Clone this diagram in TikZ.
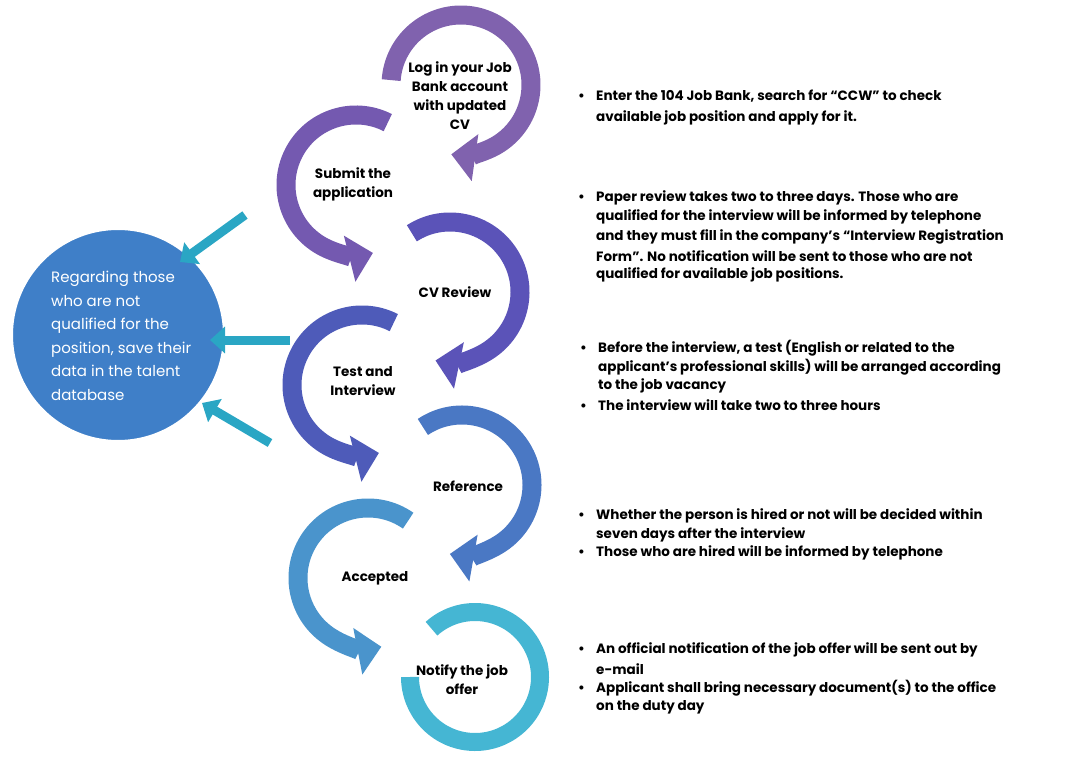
\documentclass[tikz,border=0pt]{standalone}
\usepackage{fontspec}
\setmainfont{Poppins}
\usetikzlibrary{arrows.meta}
\definecolor{c1}{HTML}{8062AE}
\definecolor{c2}{HTML}{7459B0}
\definecolor{c3}{HTML}{5B53B8}
\definecolor{c4}{HTML}{4E5BB9}
\definecolor{c5}{HTML}{4A78C4}
\definecolor{c6}{HTML}{4A94CC}
\definecolor{c7}{HTML}{45B6D3}
\definecolor{teal}{HTML}{2AA6C4}
\definecolor{circ}{HTML}{3F7FC8}
\newcommand{\bul}{\makebox[18pt][l]{•}}
\begin{document}
\begin{tikzpicture}[x=1pt,y=1pt,
  ring/.style={line width=19pt},
  arr/.style={ring,-{Triangle[length=24pt,width=46pt]}},
  lbl/.style={align=center,font=\bfseries\fontsize{13.5}{19}\selectfont,inner sep=0},
  txt/.style={anchor=west,font=\bfseries\fontsize{13.5}{19}\selectfont,inner sep=0},
  tarr/.style={teal,line width=9pt,-{Triangle[length=15pt,width=26pt]}}]
\begin{scope}[yscale=-1]
\useasboundingbox (0,0) rectangle (1084,767);
% arcs
\draw[arr,c1] (461,85) ++(184:70) arc[start angle=184,end angle=458,radius=70];
\draw[arr,c2] (356,185) ++(297:70) arc[start angle=297,end angle=76,radius=70];
\draw[arr,c3] (450,292) ++(237:70) arc[start angle=237,end angle=462,radius=70];
\draw[arr,c4] (362,385) ++(297:70) arc[start angle=297,end angle=76,radius=70];
\draw[arr,c5] (462,485) ++(236:70) arc[start angle=236,end angle=460,radius=70];
\draw[arr,c6] (368,578) ++(305:70) arc[start angle=305,end angle=79,radius=70];
\draw[ring,c7,line width=18pt] (475,677) ++(228:65) arc[start angle=228,end angle=540,radius=65];
% labels
\node[lbl] (l1) at (460,96) {Log in your Job\\Bank account\\with updated\\CV};
\node[lbl] (l2) at (353,184) {Submit the\\application};
\node[lbl] (l3) at (455,292) {CV Review};
\node[lbl] (l4) at (363,381) {Test and\\Interview};
\node[lbl] (l5) at (468,486) {Reference};
\node[lbl] (l6) at (375,578) {Accepted};
\node[lbl] (l7) at (462,680) {Notify the job\\offer};
% circle
\node[circle,fill=circ,draw=white,line width=2pt,minimum size=212pt,inner sep=0] (db) at (118,335) {};
\node[anchor=west,align=left,text=white,inner sep=0,
  font=\fontsize{15}{23.5}\selectfont] (dbt) at (51,336)
  {Regarding those\\who are not\\qualified for the\\position, save their\\data in the talent\\database};
\coordinate (s1) at (245,215); \coordinate (e1) at (180,262);
\coordinate (s2) at (290,340); \coordinate (e2) at (210,340);
\coordinate (s3) at (270,443); \coordinate (e3) at (202,403);
\draw[tarr] (s1) -- (e1);
\draw[tarr] (s2) -- (e2);
\draw[tarr] (s3) -- (e3);
% bullets
\node[txt] (b1) at (578,96) {\bul Enter the 104 Job Bank, search for “CCW” to check};
\node[txt] (b1b) at (596,118) {available job position and apply for it.};
\node[txt] (b2) at (578,198) {\bul Paper review takes two to three days. Those who are};
\node[txt] at (596,217) {qualified for the interview will be informed by telephone};
\node[txt] at (596,237) {and they must fill in the company’s “Interview Registration};
\node[txt] at (596,256) {Form”. No notification will be sent to those who are not};
\node[txt] at (596,275) {qualified for available job positions.};
\node[txt] (b3) at (580,348) {\bul Before the interview, a test (English or related to the};
\node[txt] at (598,367) {applicant’s professional skills) will be arranged according};
\node[txt] at (598,386) {to the job vacancy};
\node[txt] at (580,405) {\bul The interview will take two to three hours};
\node[txt] (b4) at (578,516) {\bul Whether the person is hired or not will be decided within};
\node[txt] at (596,535) {seven days after the interview};
\node[txt] at (578,553) {\bul Those who are hired will be informed by telephone};
\node[txt] (b5) at (578,650) {\bul An official notification of the job offer will be sent out by};
\node[txt] at (596,669) {e-mail};
\node[txt] at (578,688) {\bul Applicant shall bring necessary document(s) to the office};
\node[txt] at (596,707) {on the duty day};
\end{scope}
\end{tikzpicture}
\end{document}
